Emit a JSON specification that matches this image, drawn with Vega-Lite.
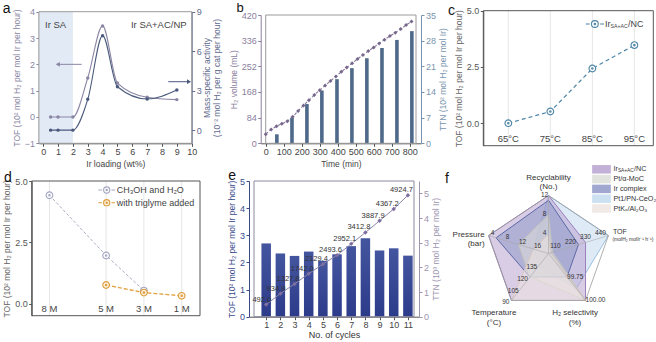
{
  "$schema": "https://vega.github.io/schema/vega-lite/v6.json",
  "width": 656,
  "height": 342,
  "autosize": {"type": "none"},
  "padding": 0,
  "background": "white",
  "config": {
    "font": "Liberation Sans",
    "view": {"stroke": null},
    "axis": {"grid": false, "labelFont": "Liberation Sans", "titleFont": "Liberation Sans", "labelFontSize": 9, "titleFontSize": 8.5, "titleFontWeight": "normal", "labelColor": "#444", "titleColor": "#444", "domainColor": "#555", "tickColor": "#555", "tickSize": 3, "labelPadding": 1.5, "titlePadding": 3, "labelFlush": false, "labelOverlap": false, "labelBound": false, "zindex": 1},
    "text": {"font": "Liberation Sans"}
  },
  "datasets": {
    "loading": [
      {"load": 0.5, "tof": 0, "mass": 0},
      {"load": 1, "tof": 0, "mass": 0},
      {"load": 2, "tof": 0, "mass": 0},
      {"load": 3, "tof": 1.48, "mass": 2.34},
      {"load": 4, "tof": 3.46, "mass": 7.18},
      {"load": 5, "tof": 1.29, "mass": 3.3},
      {"load": 7, "tof": 0.75, "mass": 2.37},
      {"load": 9, "tof": 0.66, "mass": 3.05}
    ],
    "volume": [
      {"t": 0, "v": 30}, {"t": 30, "v": 45}, {"t": 60, "v": 56}, {"t": 90, "v": 64},
      {"t": 120, "v": 72}, {"t": 150, "v": 87}, {"t": 180, "v": 106}, {"t": 210, "v": 124},
      {"t": 240, "v": 141}, {"t": 270, "v": 158}, {"t": 300, "v": 174}, {"t": 330, "v": 189},
      {"t": 360, "v": 204}, {"t": 390, "v": 219}, {"t": 420, "v": 234}, {"t": 450, "v": 248},
      {"t": 480, "v": 262}, {"t": 510, "v": 276}, {"t": 540, "v": 289}, {"t": 570, "v": 302},
      {"t": 600, "v": 314}, {"t": 630, "v": 327}, {"t": 660, "v": 339}, {"t": 690, "v": 351},
      {"t": 720, "v": 362}, {"t": 750, "v": 374}, {"t": 780, "v": 387}, {"t": 810, "v": 399}
    ],
    "ttnBars": [
      {"t": 62, "ttn": 2.45}, {"t": 146, "ttn": 7.0}, {"t": 229, "ttn": 10.7}, {"t": 312, "ttn": 14.4},
      {"t": 396, "ttn": 17.5}, {"t": 479, "ttn": 20.5}, {"t": 562, "ttn": 23.2}, {"t": 646, "ttn": 26.0},
      {"t": 729, "ttn": 28.2}, {"t": 812, "ttn": 30.6}
    ],
    "temp": [
      {"T": 65, "label": "65°C", "tof": 0.0},
      {"T": 75, "label": "75°C", "tof": 0.52},
      {"T": 85, "label": "85°C", "tof": 2.43},
      {"T": 95, "label": "95°C", "tof": 3.47}
    ],
    "concLabels": [
      {"c": 8, "label": "8 M"}, {"c": 5, "label": "5 M"}, {"c": 3, "label": "3 M"}, {"c": 1, "label": "1 M"}
    ],
    "conc": [
      {"grp": "water", "c": 8, "tof": 4.42},
      {"grp": "water", "c": 5, "tof": 1.97},
      {"grp": "water", "c": 3, "tof": 0.54},
      {"grp": "triglyme", "c": 5, "tof": 0.77},
      {"grp": "triglyme", "c": 3, "tof": 0.46},
      {"grp": "triglyme", "c": 1, "tof": 0.33}
    ],
    "cycles": [
      {"n": 1, "tof": 2.70, "ttn": 492.0},
      {"n": 2, "tof": 2.33, "ttn": 934.9},
      {"n": 3, "tof": 2.24, "ttn": 1327.8},
      {"n": 4, "tof": 2.40, "ttn": 1742.0},
      {"n": 5, "tof": 2.06, "ttn": 2129.4},
      {"n": 6, "tof": 2.30, "ttn": 2493.6},
      {"n": 7, "tof": 2.60, "ttn": 2952.1},
      {"n": 8, "tof": 2.89, "ttn": 3412.8},
      {"n": 9, "tof": 2.44, "ttn": 3887.9},
      {"n": 10, "tof": 2.52, "ttn": 4367.2},
      {"n": 11, "tof": 2.25, "ttn": 4924.7}
    ],
    "radarAxes": [
      {"axis": "Recyclability", "idx": 0, "lo": 0, "hi": 12, "title": "Recyclability\n(No.)"},
      {"axis": "TOF", "idx": 1, "lo": 0, "hi": 440, "title": "TOF", "unit": "(molH₂ molIr⁻¹ h⁻¹)"},
      {"axis": "Selectivity", "idx": 2, "lo": 99.5, "hi": 100, "title": "H₂ selectivity\n(%)"},
      {"axis": "Temperature", "idx": 3, "lo": 150, "hi": 90, "title": "Temperature\n(°C)"},
      {"axis": "Pressure", "idx": 4, "lo": 20, "hi": 4, "title": "Pressure\n(bar)"}
    ],
    "radarValues": [
      {"cat": "Pt1/PN-CeO2", "axis": "Recyclability", "value": 12},
      {"cat": "Pt1/PN-CeO2", "axis": "TOF", "value": 440},
      {"cat": "Pt1/PN-CeO2", "axis": "Selectivity", "value": 99.875},
      {"cat": "Pt1/PN-CeO2", "axis": "Temperature", "value": 135},
      {"cat": "Pt1/PN-CeO2", "axis": "Pressure", "value": 16},
      {"cat": "Ir_SA+AC/NC", "axis": "Recyclability", "value": 12},
      {"cat": "Ir_SA+AC/NC", "axis": "TOF", "value": 272},
      {"cat": "Ir_SA+AC/NC", "axis": "Selectivity", "value": 100},
      {"cat": "Ir_SA+AC/NC", "axis": "Temperature", "value": 90},
      {"cat": "Ir_SA+AC/NC", "axis": "Pressure", "value": 4},
      {"cat": "Ir complex", "axis": "Recyclability", "value": 11},
      {"cat": "Ir complex", "axis": "TOF", "value": 220},
      {"cat": "Ir complex", "axis": "Selectivity", "value": 99.75},
      {"cat": "Ir complex", "axis": "Temperature", "value": 120},
      {"cat": "Ir complex", "axis": "Pressure", "value": 6},
      {"cat": "Pt/α-MoC", "axis": "Recyclability", "value": 8},
      {"cat": "Pt/α-MoC", "axis": "TOF", "value": 30},
      {"cat": "Pt/α-MoC", "axis": "Selectivity", "value": 100},
      {"cat": "Pt/α-MoC", "axis": "Temperature", "value": 120},
      {"cat": "Pt/α-MoC", "axis": "Pressure", "value": 12},
      {"cat": "PtKx/Al2O3", "axis": "Recyclability", "value": 4},
      {"cat": "PtKx/Al2O3", "axis": "TOF", "value": 15},
      {"cat": "PtKx/Al2O3", "axis": "Selectivity", "value": 100},
      {"cat": "PtKx/Al2O3", "axis": "Temperature", "value": 90},
      {"cat": "PtKx/Al2O3", "axis": "Pressure", "value": 16}
    ],
    "radarTicks": [
      {"axis": "Recyclability", "value": 4, "label": "4"},
      {"axis": "Recyclability", "value": 8, "label": "8"},
      {"axis": "Recyclability", "value": 12, "label": "12"},
      {"axis": "TOF", "value": 110, "label": "110"},
      {"axis": "TOF", "value": 220, "label": "220"},
      {"axis": "TOF", "value": 330, "label": "330"},
      {"axis": "TOF", "value": 440, "label": "440"},
      {"axis": "Selectivity", "value": 99.75, "label": "99.75"},
      {"axis": "Selectivity", "value": 100, "label": "100.00"},
      {"axis": "Temperature", "value": 135, "label": "135"},
      {"axis": "Temperature", "value": 120, "label": "120"},
      {"axis": "Temperature", "value": 105, "label": "105"},
      {"axis": "Temperature", "value": 90, "label": "90"},
      {"axis": "Pressure", "value": 16, "label": "16"},
      {"axis": "Pressure", "value": 12, "label": "12"},
      {"axis": "Pressure", "value": 8, "label": "8"},
      {"axis": "Pressure", "value": 4, "label": "4"}
    ],
    "radarLegend": [
      {"cat": "Ir_SA+AC/NC", "label": "Ir", "sub": "SA+AC", "tail": "/NC"},
      {"cat": "Pt/α-MoC", "label": "Pt/α-MoC"},
      {"cat": "Ir complex", "label": "Ir complex"},
      {"cat": "Pt1/PN-CeO2", "label": "Pt1/PN-CeO₂"},
      {"cat": "PtKx/Al2O3", "label": "PtKₓ/Al₂O₃"}
    ]
  },
  "layer": [
    {
      "layer": [
        {
          "data": {"name": "loading"},
          "layer": [
            {
              "data": {"values": [{}]},
              "mark": {"type": "rect", "color": "#e2eaf6"},
              "encoding": {
                "x": {"datum": -0.29, "type": "quantitative", "scale": {"domain": [-0.29, 10], "range": [38.9, 191.7], "nice": false, "zero": false}, "axis": {"orient": "bottom", "offset": -198.7, "values": [0, 1, 2, 3, 4, 5, 6, 7, 8, 9, 10], "format": "d", "title": "Ir loading (wt%)"}},
                "x2": {"datum": 2},
                "y": {"datum": -1, "type": "quantitative", "scale": {"domain": [-1, 4], "range": [143.3, 11.7], "nice": false, "zero": false}, "axis": {"orient": "left", "offset": -38.9, "values": [-1, 0, 1, 2, 3, 4], "format": "d", "title": "TOF (10² mol H₂ per mol Ir per hour)", "labelColor": "#8a86a4", "titleColor": "#8a86a4", "domainColor": "#8a86a4", "tickColor": "#8a86a4"}},
                "y2": {"datum": 4}
              }
            },
            {
              "data": {"values": [{}]},
              "mark": {"type": "rect", "fill": "transparent", "stroke": "#9a9a9a", "strokeWidth": 1},
              "encoding": {"x": {"datum": -0.29, "type": "quantitative"}, "x2": {"datum": 10}, "y": {"datum": -1, "type": "quantitative"}, "y2": {"datum": 4}}
            },
            {
              "data": {"values": [{}]},
              "mark": {"type": "text", "align": "left", "baseline": "middle", "fontSize": 9.5, "color": "#444"},
              "encoding": {"x": {"datum": 0.12, "type": "quantitative"}, "y": {"datum": 3.5, "type": "quantitative"}, "text": {"value": "Ir SA"}}
            },
            {
              "data": {"values": [{}]},
              "mark": {"type": "text", "align": "right", "baseline": "middle", "fontSize": 9.5, "color": "#444"},
              "encoding": {"x": {"datum": 9.66, "type": "quantitative"}, "y": {"datum": 3.5, "type": "quantitative"}, "text": {"value": "Ir SA+AC/NP"}}
            },
            {
              "data": {"values": [{}]},
              "mark": {"type": "rule", "color": "#8a86a4", "strokeWidth": 1},
              "encoding": {"x": {"datum": 1.0, "type": "quantitative"}, "x2": {"datum": 2.59}, "y": {"datum": 2, "type": "quantitative"}}
            },
            {
              "data": {"values": [{}]},
              "mark": {"type": "point", "shape": "triangle-left", "filled": true, "size": 22, "color": "#8a86a4", "opacity": 1},
              "encoding": {"x": {"datum": 0.98, "type": "quantitative"}, "y": {"datum": 2, "type": "quantitative"}}
            },
            {
              "mark": {"type": "line", "interpolate": "monotone", "color": "#8a86a4", "strokeWidth": 1.1},
              "encoding": {"x": {"field": "load", "type": "quantitative"}, "y": {"field": "tof", "type": "quantitative"}}
            },
            {
              "mark": {"type": "point", "filled": true, "size": 12, "color": "#8a86a4", "opacity": 1},
              "encoding": {"x": {"field": "load", "type": "quantitative"}, "y": {"field": "tof", "type": "quantitative"}}
            },
            {
              "data": {"values": [{}]},
              "mark": {"type": "text", "align": "left", "baseline": "alphabetic", "fontSize": 14, "color": "#111"},
              "encoding": {"x": {"datum": -2.73, "type": "quantitative"}, "y": {"datum": 3.94, "type": "quantitative"}, "text": {"value": "a"}}
            }
          ]
        },
        {
          "data": {"name": "loading"},
          "layer": [
            {
              "mark": {"type": "line", "interpolate": "monotone", "color": "#4b5a7c", "strokeWidth": 1.1},
              "encoding": {
                "x": {"field": "load", "type": "quantitative"},
                "y": {"field": "mass", "type": "quantitative", "scale": {"domain": [-1, 9], "range": [143.3, 11.7], "nice": false, "zero": false}, "axis": {"orient": "right", "offset": -464.3, "values": [0, 3, 6, 9], "format": "d", "title": ["Mass-specific activity", "(10⁻² mol H₂ per g cat per hour)"], "titleAngle": 270, "titleBaseline": "top", "titleAlign": "center", "titleX": 11, "titleY": 77.5, "titleLineHeight": 10, "labelColor": "#5f6b8e", "titleColor": "#5f6b8e", "domainColor": "#5f6b8e", "tickColor": "#5f6b8e"}}
              }
            },
            {
              "mark": {"type": "point", "filled": true, "size": 12, "color": "#4b5a7c", "opacity": 1},
              "encoding": {"x": {"field": "load", "type": "quantitative"}, "y": {"field": "mass", "type": "quantitative"}}
            },
            {
              "data": {"values": [{}]},
              "mark": {"type": "rule", "color": "#4b5a7c", "strokeWidth": 1},
              "encoding": {"x": {"datum": 8.42, "type": "quantitative"}, "x2": {"datum": 9.8}, "y": {"datum": 3.68, "type": "quantitative"}}
            },
            {
              "data": {"values": [{}]},
              "mark": {"type": "point", "shape": "triangle-right", "filled": true, "size": 22, "color": "#4b5a7c", "opacity": 1},
              "encoding": {"x": {"datum": 9.82, "type": "quantitative"}, "y": {"datum": 3.68, "type": "quantitative"}}
            }
          ]
        }
      ],
      "resolve": {"scale": {"y": "independent"}}
    },
    {
      "layer": [
        {
          "data": {"name": "ttnBars"},
          "layer": [
            {
              "mark": {"type": "bar", "width": 3.6, "color": "#4e6989"},
              "encoding": {
                "x": {"field": "t", "type": "quantitative", "scale": {"domain": [0, 835], "range": [260.7, 421], "nice": false, "zero": false}, "axis": {"orient": "bottom", "offset": -198.7, "values": [0, 100, 200, 300, 400, 500, 600, 700, 800], "format": "d", "title": "Time (min)"}},
                "y": {"field": "ttn", "type": "quantitative", "scale": {"domain": [0, 35], "range": [143.3, 15], "nice": false}, "axis": {"orient": "right", "offset": -235, "values": [0, 7, 14, 21, 28, 35], "format": "d", "title": "TTN (10² mol H₂ per mol Ir)", "titleAngle": 270, "titleBaseline": "top", "labelColor": "#7894ae", "titleColor": "#7894ae", "domainColor": "#7894ae", "tickColor": "#7894ae"}}
              }
            }
          ]
        },
        {
          "data": {"name": "volume"},
          "layer": [
            {
              "data": {"values": [{}]},
              "mark": {"type": "rect", "fill": "transparent", "stroke": "#9a9a9a", "strokeWidth": 1},
              "encoding": {
                "x": {"datum": 0, "type": "quantitative"},
                "x2": {"datum": 835},
                "y": {"datum": 0, "type": "quantitative", "scale": {"domain": [0, 420], "range": [143.3, 15], "nice": false}, "axis": {"orient": "left", "offset": -260.7, "values": [0, 84, 168, 252, 336, 420], "format": "d", "title": "H₂ volume (mL)", "labelColor": "#8b809d", "titleColor": "#8b809d", "domainColor": "#8b809d", "tickColor": "#8b809d"}},
                "y2": {"datum": 420}
              }
            },
            {
              "mark": {"type": "line", "color": "#86789a", "strokeWidth": 1.1, "strokeDash": [3, 2]},
              "encoding": {"x": {"field": "t", "type": "quantitative"}, "y": {"field": "v", "type": "quantitative"}}
            },
            {
              "mark": {"type": "point", "shape": "diamond", "filled": true, "size": 16, "color": "#76668c", "opacity": 1},
              "encoding": {"x": {"field": "t", "type": "quantitative"}, "y": {"field": "v", "type": "quantitative"}}
            },
            {
              "data": {"values": [{}]},
              "mark": {"type": "text", "align": "left", "baseline": "alphabetic", "fontSize": 13, "color": "#111"},
              "encoding": {"x": {"datum": -162, "type": "quantitative"}, "y": {"datum": 429.8, "type": "quantitative"}, "text": {"value": "b"}}
            }
          ]
        }
      ],
      "resolve": {"scale": {"y": "independent"}}
    },
    {
      "data": {"name": "temp"},
      "layer": [
        {
          "mark": {"type": "rule", "color": "#e6e6e6", "strokeWidth": 1},
          "encoding": {
            "x": {"field": "T", "type": "quantitative", "scale": {"domain": [59.05, 99.5], "range": [483.3, 653.3], "nice": false, "zero": false}, "axis": null},
            "y": {"datum": -1, "type": "quantitative", "scale": {"domain": [-1, 5], "range": [145.7, 10.7], "nice": false, "zero": false}, "axis": {"orient": "left", "offset": -483.3, "values": [0, 2.5, 5], "format": ".1f", "title": "TOF (10² mol H₂ per mol Ir per hour)", "labelColor": "#555", "titleColor": "#666"}},
            "y2": {"datum": 5}
          }
        },
        {
          "data": {"values": [{}]},
          "mark": {"type": "rect", "fill": "transparent", "stroke": "#555", "strokeWidth": 1},
          "encoding": {"x": {"datum": 59.05, "type": "quantitative", "axis": null}, "x2": {"datum": 99.5}, "y": {"datum": -1, "type": "quantitative"}, "y2": {"datum": 5}}
        },
        {
          "mark": {"type": "text", "align": "center", "baseline": "middle", "fontSize": 9.5, "color": "#444"},
          "encoding": {"x": {"field": "T", "type": "quantitative", "axis": null}, "y": {"datum": -0.72, "type": "quantitative"}, "text": {"field": "label"}}
        },
        {
          "mark": {"type": "line", "color": "#4d85a5", "strokeWidth": 1.2, "strokeDash": [4, 3]},
          "encoding": {"x": {"field": "T", "type": "quantitative", "axis": null}, "y": {"field": "tof", "type": "quantitative"}}
        },
        {
          "mark": {"type": "point", "shape": "M-1,0A1,1,0,1,0,1,0A1,1,0,1,0,-1,0ZM-0.22,0A0.22,0.22,0,1,0,0.22,0A0.22,0.22,0,1,0,-0.22,0Z", "size": 45, "fill": "white", "fillOpacity": 1, "stroke": "#4d85a5", "strokeWidth": 1.1, "opacity": 1},
          "encoding": {"x": {"field": "T", "type": "quantitative", "axis": null}, "y": {"field": "tof", "type": "quantitative"}}
        },
        {
          "data": {"values": [{}]},
          "mark": {"type": "point", "shape": "M-1,0L-0.57,0M0.57,0L1,0M-0.37,0A0.37,0.37,0,1,0,0.37,0A0.37,0.37,0,1,0,-0.37,0ZM-0.08,0A0.08,0.08,0,1,0,0.08,0A0.08,0.08,0,1,0,-0.08,0Z", "size": 335, "fill": "white", "fillOpacity": 1, "stroke": "#4d85a5", "strokeWidth": 1.1, "opacity": 1},
          "encoding": {"x": {"datum": 85.6, "type": "quantitative", "axis": null}, "y": {"datum": 4.41, "type": "quantitative"}}
        },
        {
          "data": {"values": [{}]},
          "mark": {"type": "text", "align": "left", "baseline": "middle", "fontSize": 9, "color": "#444"},
          "encoding": {"x": {"datum": 88.0, "type": "quantitative", "axis": null}, "y": {"datum": 4.41, "type": "quantitative"}, "text": {"value": "Ir"}}
        },
        {
          "data": {"values": [{}]},
          "mark": {"type": "text", "align": "left", "baseline": "middle", "fontSize": 5.2, "dx": 5.6, "dy": 2.5, "color": "#444"},
          "encoding": {"x": {"datum": 88.0, "type": "quantitative", "axis": null}, "y": {"datum": 4.41, "type": "quantitative"}, "text": {"value": "SA+AC"}}
        },
        {
          "data": {"values": [{}]},
          "mark": {"type": "text", "align": "left", "baseline": "middle", "fontSize": 9, "dx": 23, "color": "#444"},
          "encoding": {"x": {"datum": 88.0, "type": "quantitative", "axis": null}, "y": {"datum": 4.41, "type": "quantitative"}, "text": {"value": "/NC"}}
        },
        {
          "data": {"values": [{}]},
          "mark": {"type": "text", "align": "left", "baseline": "alphabetic", "fontSize": 14, "color": "#111"},
          "encoding": {"x": {"datum": 50.65, "type": "quantitative", "axis": null}, "y": {"datum": 4.81, "type": "quantitative"}, "text": {"value": "c"}}
        }
      ]
    },
    {
      "data": {"name": "conc"},
      "layer": [
        {
          "data": {"name": "concLabels"},
          "mark": {"type": "rule", "color": "#e6e6e6", "strokeWidth": 1},
          "encoding": {
            "x": {"field": "c", "type": "quantitative", "scale": {"domain": [0.03, 8.94], "range": [200, 31.7], "nice": false, "zero": false}, "axis": null},
            "y": {"datum": -0.48, "type": "quantitative", "scale": {"domain": [-0.48, 5], "range": [315.7, 181], "nice": false, "zero": false}, "axis": {"orient": "left", "offset": -31.7, "values": [0, 2.5, 5], "format": ".1f", "title": "TOF (10² mol H₂ per mol Ir per hour)", "labelColor": "#555", "titleColor": "#666"}},
            "y2": {"datum": 5}
          }
        },
        {
          "data": {"values": [{}]},
          "mark": {"type": "rect", "fill": "transparent", "stroke": "#555", "strokeWidth": 1},
          "encoding": {"x": {"datum": 0.03, "type": "quantitative", "axis": null}, "x2": {"datum": 8.94}, "y": {"datum": -0.48, "type": "quantitative"}, "y2": {"datum": 5}}
        },
        {
          "data": {"name": "concLabels"},
          "mark": {"type": "text", "align": "center", "baseline": "middle", "fontSize": 9.5, "color": "#444"},
          "encoding": {"x": {"field": "c", "type": "quantitative", "axis": null}, "y": {"datum": -0.22, "type": "quantitative"}, "text": {"field": "label"}}
        },
        {
          "transform": [{"filter": "datum.grp == 'water'"}],
          "mark": {"type": "line", "color": "#a9abc0", "strokeWidth": 1, "strokeDash": [3, 2]},
          "encoding": {"x": {"field": "c", "type": "quantitative", "axis": null}, "y": {"field": "tof", "type": "quantitative"}}
        },
        {
          "transform": [{"filter": "datum.grp == 'water'"}],
          "mark": {"type": "point", "shape": "M-1,0A1,1,0,1,0,1,0A1,1,0,1,0,-1,0ZM-0.22,0A0.22,0.22,0,1,0,0.22,0A0.22,0.22,0,1,0,-0.22,0Z", "size": 45, "fill": "white", "fillOpacity": 1, "stroke": "#a3a6c0", "strokeWidth": 1.1, "opacity": 1},
          "encoding": {"x": {"field": "c", "type": "quantitative", "axis": null}, "y": {"field": "tof", "type": "quantitative"}}
        },
        {
          "transform": [{"filter": "datum.grp == 'triglyme'"}],
          "mark": {"type": "line", "color": "#e2a445", "strokeWidth": 1.4, "strokeDash": [4, 2]},
          "encoding": {"x": {"field": "c", "type": "quantitative", "axis": null}, "y": {"field": "tof", "type": "quantitative"}}
        },
        {
          "transform": [{"filter": "datum.grp == 'triglyme'"}],
          "mark": {"type": "point", "shape": "M-1,0A1,1,0,1,0,1,0A1,1,0,1,0,-1,0ZM-0.22,0A0.22,0.22,0,1,0,0.22,0A0.22,0.22,0,1,0,-0.22,0Z", "size": 45, "fill": "#fbf1df", "fillOpacity": 1, "stroke": "#dd9d3c", "strokeWidth": 1.1, "opacity": 1},
          "encoding": {"x": {"field": "c", "type": "quantitative", "axis": null}, "y": {"field": "tof", "type": "quantitative"}}
        },
        {
          "data": {"values": [{}]},
          "mark": {"type": "point", "shape": "M-1,0L-0.57,0M0.57,0L1,0M-0.37,0A0.37,0.37,0,1,0,0.37,0A0.37,0.37,0,1,0,-0.37,0ZM-0.08,0A0.08,0.08,0,1,0,0.08,0A0.08,0.08,0,1,0,-0.08,0Z", "size": 279, "fill": "white", "fillOpacity": 1, "stroke": "#a3a6c0", "strokeWidth": 1.1, "opacity": 1},
          "encoding": {"x": {"datum": 4.97, "type": "quantitative", "axis": null}, "y": {"datum": 4.634, "type": "quantitative"}}
        },
        {
          "data": {"values": [{}]},
          "mark": {"type": "point", "shape": "M-1,0L-0.57,0M0.57,0L1,0M-0.37,0A0.37,0.37,0,1,0,0.37,0A0.37,0.37,0,1,0,-0.37,0ZM-0.08,0A0.08,0.08,0,1,0,0.08,0A0.08,0.08,0,1,0,-0.08,0Z", "size": 279, "fill": "#fbf1df", "fillOpacity": 1, "stroke": "#dd9d3c", "strokeWidth": 1.1, "opacity": 1},
          "encoding": {"x": {"datum": 4.97, "type": "quantitative", "axis": null}, "y": {"datum": 4.117, "type": "quantitative"}}
        },
        {
          "data": {"values": [{}]},
          "mark": {"type": "text", "align": "left", "baseline": "middle", "fontSize": 9, "color": "#444"},
          "encoding": {"x": {"datum": 4.44, "type": "quantitative", "axis": null}, "y": {"datum": 4.634, "type": "quantitative"}, "text": {"value": "CH₃OH and H₂O"}}
        },
        {
          "data": {"values": [{}]},
          "mark": {"type": "text", "align": "left", "baseline": "middle", "fontSize": 9, "color": "#444"},
          "encoding": {"x": {"datum": 4.44, "type": "quantitative", "axis": null}, "y": {"datum": 4.117, "type": "quantitative"}, "text": {"value": "with triglyme added"}}
        },
        {
          "data": {"values": [{}]},
          "mark": {"type": "text", "align": "left", "baseline": "alphabetic", "fontSize": 14, "color": "#111"},
          "encoding": {"x": {"datum": 10.41, "type": "quantitative", "axis": null}, "y": {"datum": 4.97, "type": "quantitative"}, "text": {"value": "d"}}
        }
      ]
    },
    {
      "data": {"name": "cycles"},
      "layer": [
        {
          "layer": [
            {
              "mark": {"type": "bar", "width": 9.5, "color": {"gradient": "linear", "x1": 0, "y1": 0, "x2": 0, "y2": 1, "stops": [{"offset": 0, "color": "#44559f"}, {"offset": 1, "color": "#2c3b8a"}]}},
              "encoding": {
                "x": {"field": "n", "type": "quantitative", "scale": {"domain": [0.14, 11.43], "range": [249, 419], "nice": false, "zero": false}, "axis": {"orient": "bottom", "offset": -25.3, "values": [1, 2, 3, 4, 5, 6, 7, 8, 9, 10, 11], "format": "d", "title": "No. of cycles", "titleColor": "#333", "titleFontSize": 9, "labelPadding": 1, "titlePadding": 1}},
                "y": {"field": "tof", "type": "quantitative", "scale": {"domain": [0, 5], "range": [316.7, 181], "nice": false}, "axis": {"orient": "left", "offset": -249, "values": [0, 1, 2, 3, 4, 5], "format": "d", "title": "TOF (10² mol H₂ per mol Ir per hour)", "labelColor": "#3a4a8c", "titleColor": "#3a4a8c", "domainColor": "#3a4a8c", "tickColor": "#3a4a8c"}}
              }
            },
            {
              "data": {"values": [{}]},
              "mark": {"type": "rect", "fill": "transparent", "stroke": "#8a8aa0", "strokeWidth": 1},
              "encoding": {"x": {"datum": 0.14, "type": "quantitative"}, "x2": {"datum": 11.43}, "y": {"datum": 0, "type": "quantitative"}, "y2": {"datum": 5}}
            },
            {
              "data": {"values": [{}]},
              "mark": {"type": "text", "align": "left", "baseline": "alphabetic", "fontSize": 14, "color": "#111"},
              "encoding": {"x": {"datum": -1.67, "type": "quantitative"}, "y": {"datum": 5.04, "type": "quantitative"}, "text": {"value": "e"}}
            }
          ]
        },
        {
          "transform": [{"calculate": "datum.ttn / 1000", "as": "ttnK"}],
          "layer": [
            {
              "mark": {"type": "line", "color": "#8e84a8", "strokeWidth": 1},
              "encoding": {
                "x": {"field": "n", "type": "quantitative"},
                "y": {"field": "ttnK", "type": "quantitative", "scale": {"domain": [0, 5.5], "range": [316.7, 181], "nice": false}, "axis": {"orient": "right", "offset": -237, "values": [0, 1, 2, 3, 4, 5], "format": "d", "title": "TTN (10³ mol H₂ per mol Ir)", "titleAngle": 270, "titleBaseline": "top", "labelColor": "#9d94b0", "titleColor": "#9d94b0", "domainColor": "#9d94b0", "tickColor": "#9d94b0"}}
              }
            },
            {
              "mark": {"type": "point", "shape": "diamond", "filled": true, "size": 20, "color": "#7d6fa0", "opacity": 1},
              "encoding": {"x": {"field": "n", "type": "quantitative"}, "y": {"field": "ttnK", "type": "quantitative"}}
            },
            {
              "mark": {"type": "text", "align": "right", "baseline": "middle", "fontSize": 7.5, "dx": 5, "dy": -5, "color": "#333"},
              "encoding": {"x": {"field": "n", "type": "quantitative"}, "y": {"field": "ttnK", "type": "quantitative"}, "text": {"field": "ttn", "type": "quantitative", "format": ".1f"}}
            }
          ]
        }
      ],
      "resolve": {"scale": {"y": "independent"}}
    },
    {
      "layer": [
        {
          "layer": [
            {
              "data": {"name": "radarValues"},
              "transform": [
                {"lookup": "axis", "from": {"data": {"name": "radarAxes"}, "key": "axis", "fields": ["idx", "lo", "hi"]}},
                {"calculate": "(datum.value - datum.lo) / (datum.hi - datum.lo)", "as": "r"},
                {"calculate": "datum.r * sin(datum.idx * 2 * PI / 5)", "as": "px"},
                {"calculate": "datum.r * cos(datum.idx * 2 * PI / 5)", "as": "py"}
              ],
              "mark": {"type": "line", "interpolate": "linear-closed", "strokeWidth": 1, "fillOpacity": 0.55},
              "encoding": {
                "x": {"field": "px", "type": "quantitative", "scale": {"domain": [-1, 1], "range": [485.5, 611.5], "nice": false, "zero": false}, "axis": null},
                "y": {"field": "py", "type": "quantitative", "scale": {"domain": [-1, 1], "range": [311.5, 195.5], "nice": false, "zero": false}, "axis": null},
                "order": {"field": "idx"},
                "detail": {"field": "cat"},
                "fill": {"field": "cat", "type": "nominal", "scale": {"domain": ["Ir_SA+AC/NC", "Pt/α-MoC", "Ir complex", "Pt1/PN-CeO2", "PtKx/Al2O3"], "range": ["#b9a2cf", "#dcdfd8", "#8f99c9", "#c3daef", "#efe5e1"]}, "legend": null},
                "stroke": {"field": "cat", "type": "nominal", "scale": {"domain": ["Ir_SA+AC/NC", "Pt/α-MoC", "Ir complex", "Pt1/PN-CeO2", "PtKx/Al2O3"], "range": ["#9b7fbb", "#c2c6bd", "#5d6aa6", "#9cbfe0", "#d8c9c2"]}, "legend": null}
              }
            },
            {
              "data": {"name": "radarAxes"},
              "transform": [
                {"calculate": "sin(datum.idx * 2 * PI / 5)", "as": "px"},
                {"calculate": "cos(datum.idx * 2 * PI / 5)", "as": "py"}
              ],
              "mark": {"type": "line", "interpolate": "linear-closed", "color": "#9a9a9a", "strokeWidth": 0.8},
              "encoding": {"x": {"field": "px", "type": "quantitative", "axis": null}, "y": {"field": "py", "type": "quantitative", "axis": null}, "order": {"field": "idx"}}
            },
            {
              "data": {"name": "radarAxes"},
              "transform": [
                {"calculate": "sin(datum.idx * 2 * PI / 5)", "as": "px"},
                {"calculate": "cos(datum.idx * 2 * PI / 5)", "as": "py"}
              ],
              "mark": {"type": "rule", "color": "#a8a8a8", "strokeWidth": 0.6},
              "encoding": {"x": {"field": "px", "type": "quantitative", "axis": null}, "y": {"field": "py", "type": "quantitative", "axis": null}, "x2": {"datum": 0}, "y2": {"datum": 0}}
            },
            {
              "data": {"name": "radarTicks"},
              "transform": [
                {"filter": "datum.axis == 'Recyclability'"},
                {"lookup": "axis", "from": {"data": {"name": "radarAxes"}, "key": "axis", "fields": ["idx", "lo", "hi"]}},
                {"calculate": "(datum.value - datum.lo) / (datum.hi - datum.lo)", "as": "r"},
                {"calculate": "datum.r * sin(datum.idx * 2 * PI / 5)", "as": "px"},
                {"calculate": "datum.r * cos(datum.idx * 2 * PI / 5)", "as": "py"}
              ],
              "mark": {"type": "text", "align": "center", "baseline": "middle", "fontSize": 6.5, "dx": -4, "dy": -1, "color": "#333"},
              "encoding": {"x": {"field": "px", "type": "quantitative", "axis": null}, "y": {"field": "py", "type": "quantitative", "axis": null}, "text": {"field": "label"}}
            },
            {
              "data": {"name": "radarTicks"},
              "transform": [
                {"filter": "datum.axis == 'TOF'"},
                {"lookup": "axis", "from": {"data": {"name": "radarAxes"}, "key": "axis", "fields": ["idx", "lo", "hi"]}},
                {"calculate": "(datum.value - datum.lo) / (datum.hi - datum.lo)", "as": "r"},
                {"calculate": "datum.r * sin(datum.idx * 2 * PI / 5)", "as": "px"},
                {"calculate": "datum.r * cos(datum.idx * 2 * PI / 5)", "as": "py"}
              ],
              "mark": {"type": "text", "align": "center", "baseline": "middle", "fontSize": 6.5, "dx": -8, "dy": -3, "color": "#333"},
              "encoding": {"x": {"field": "px", "type": "quantitative", "axis": null}, "y": {"field": "py", "type": "quantitative", "axis": null}, "text": {"field": "label"}}
            },
            {
              "data": {"name": "radarTicks"},
              "transform": [
                {"filter": "datum.axis == 'Selectivity'"},
                {"lookup": "axis", "from": {"data": {"name": "radarAxes"}, "key": "axis", "fields": ["idx", "lo", "hi"]}},
                {"calculate": "(datum.value - datum.lo) / (datum.hi - datum.lo)", "as": "r"},
                {"calculate": "datum.r * sin(datum.idx * 2 * PI / 5)", "as": "px"},
                {"calculate": "datum.r * cos(datum.idx * 2 * PI / 5)", "as": "py"}
              ],
              "mark": {"type": "text", "align": "left", "baseline": "middle", "fontSize": 6.5, "dx": 0, "dy": 0, "color": "#333"},
              "encoding": {"x": {"field": "px", "type": "quantitative", "axis": null}, "y": {"field": "py", "type": "quantitative", "axis": null}, "text": {"field": "label"}}
            },
            {
              "data": {"name": "radarTicks"},
              "transform": [
                {"filter": "datum.axis == 'Temperature'"},
                {"lookup": "axis", "from": {"data": {"name": "radarAxes"}, "key": "axis", "fields": ["idx", "lo", "hi"]}},
                {"calculate": "(datum.value - datum.lo) / (datum.hi - datum.lo)", "as": "r"},
                {"calculate": "datum.r * sin(datum.idx * 2 * PI / 5)", "as": "px"},
                {"calculate": "datum.r * cos(datum.idx * 2 * PI / 5)", "as": "py"}
              ],
              "mark": {"type": "text", "align": "right", "baseline": "middle", "fontSize": 6.5, "dx": -2, "dy": 2, "color": "#333"},
              "encoding": {"x": {"field": "px", "type": "quantitative", "axis": null}, "y": {"field": "py", "type": "quantitative", "axis": null}, "text": {"field": "label"}}
            },
            {
              "data": {"name": "radarTicks"},
              "transform": [
                {"filter": "datum.axis == 'Pressure'"},
                {"lookup": "axis", "from": {"data": {"name": "radarAxes"}, "key": "axis", "fields": ["idx", "lo", "hi"]}},
                {"calculate": "(datum.value - datum.lo) / (datum.hi - datum.lo)", "as": "r"},
                {"calculate": "datum.r * sin(datum.idx * 2 * PI / 5)", "as": "px"},
                {"calculate": "datum.r * cos(datum.idx * 2 * PI / 5)", "as": "py"}
              ],
              "mark": {"type": "text", "align": "center", "baseline": "middle", "fontSize": 6.5, "dx": 4, "dy": -3, "color": "#333"},
              "encoding": {"x": {"field": "px", "type": "quantitative", "axis": null}, "y": {"field": "py", "type": "quantitative", "axis": null}, "text": {"field": "label"}}
            },
            {
              "data": {"name": "radarAxes"},
              "transform": [{"filter": "datum.idx == 0"}],
              "mark": {"type": "text", "align": "center", "baseline": "bottom", "lineBreak": "\n", "lineHeight": 9, "fontSize": 8, "dy": -14, "color": "#333"},
              "encoding": {"x": {"datum": 0, "type": "quantitative", "axis": null}, "y": {"datum": 1, "type": "quantitative", "axis": null}, "text": {"field": "title"}}
            },
            {
              "data": {"name": "radarAxes"},
              "transform": [{"filter": "datum.idx == 1"}, {"calculate": "sin(2 * PI / 5)", "as": "px"}, {"calculate": "cos(2 * PI / 5)", "as": "py"}],
              "mark": {"type": "text", "align": "left", "baseline": "middle", "fontSize": 7, "dx": 4.5, "dy": -3.5, "color": "#333"},
              "encoding": {"x": {"field": "px", "type": "quantitative", "axis": null}, "y": {"field": "py", "type": "quantitative", "axis": null}, "text": {"field": "title"}}
            },
            {
              "data": {"name": "radarAxes"},
              "transform": [{"filter": "datum.idx == 1"}, {"calculate": "sin(2 * PI / 5)", "as": "px"}, {"calculate": "cos(2 * PI / 5)", "as": "py"}],
              "mark": {"type": "text", "align": "left", "baseline": "middle", "fontSize": 5, "dx": 4, "dy": 3, "color": "#333"},
              "encoding": {"x": {"field": "px", "type": "quantitative", "axis": null}, "y": {"field": "py", "type": "quantitative", "axis": null}, "text": {"field": "unit"}}
            },
            {
              "data": {"name": "radarAxes"},
              "transform": [{"filter": "datum.idx == 2"}, {"calculate": "sin(4 * PI / 5)", "as": "px"}, {"calculate": "cos(4 * PI / 5)", "as": "py"}],
              "mark": {"type": "text", "align": "center", "baseline": "top", "lineBreak": "\n", "lineHeight": 9.5, "fontSize": 8, "dx": -10.5, "dy": 9, "color": "#333"},
              "encoding": {"x": {"field": "px", "type": "quantitative", "axis": null}, "y": {"field": "py", "type": "quantitative", "axis": null}, "text": {"field": "title"}}
            },
            {
              "data": {"name": "radarAxes"},
              "transform": [{"filter": "datum.idx == 3"}, {"calculate": "sin(6 * PI / 5)", "as": "px"}, {"calculate": "cos(6 * PI / 5)", "as": "py"}],
              "mark": {"type": "text", "align": "center", "baseline": "top", "lineBreak": "\n", "lineHeight": 9.5, "fontSize": 8, "dx": -17.5, "dy": 9, "color": "#333"},
              "encoding": {"x": {"field": "px", "type": "quantitative", "axis": null}, "y": {"field": "py", "type": "quantitative", "axis": null}, "text": {"field": "title"}}
            },
            {
              "data": {"name": "radarAxes"},
              "transform": [{"filter": "datum.idx == 4"}, {"calculate": "sin(8 * PI / 5)", "as": "px"}, {"calculate": "cos(8 * PI / 5)", "as": "py"}],
              "mark": {"type": "text", "align": "right", "baseline": "middle", "lineBreak": "\n", "lineHeight": 9.5, "fontSize": 8, "dx": -4, "dy": -1, "color": "#333"},
              "encoding": {"x": {"field": "px", "type": "quantitative", "axis": null}, "y": {"field": "py", "type": "quantitative", "axis": null}, "text": {"field": "title"}}
            },
            {
              "data": {"values": [{}]},
              "mark": {"type": "text", "align": "left", "baseline": "alphabetic", "fontSize": 14, "color": "#111"},
              "encoding": {"x": {"datum": -1.643, "type": "quantitative", "axis": null}, "y": {"datum": 1.21, "type": "quantitative", "axis": null}, "text": {"value": "f"}}
            }
          ]
        },
        {
          "data": {"name": "radarLegend"},
          "layer": [
            {
              "mark": {"type": "point", "shape": "M-1,-0.455H1V0.455H-1Z", "size": 350, "filled": true, "fillOpacity": 0.85, "strokeWidth": 0, "opacity": 1},
              "encoding": {
                "x": {"datum": 0.841, "type": "quantitative", "axis": null},
                "y": {"field": "cat", "type": "nominal", "sort": null, "scale": {"type": "point", "domain": ["Ir_SA+AC/NC", "Pt/α-MoC", "Ir complex", "Pt1/PN-CeO2", "PtKx/Al2O3"], "range": [169.3, 208.5], "padding": 0}, "axis": null},
                "fill": {"field": "cat", "type": "nominal", "legend": null}
              }
            },
            {
              "mark": {"type": "text", "align": "left", "baseline": "middle", "fontSize": 7.2, "color": "#333"},
              "encoding": {"x": {"datum": 1.032, "type": "quantitative", "axis": null}, "y": {"field": "cat", "type": "nominal", "axis": null}, "text": {"field": "label"}}
            },
            {
              "transform": [{"filter": "isValid(datum.sub)"}],
              "mark": {"type": "text", "align": "left", "baseline": "middle", "fontSize": 4.8, "dx": 4.4, "dy": 2, "color": "#333"},
              "encoding": {"x": {"datum": 1.032, "type": "quantitative", "axis": null}, "y": {"field": "cat", "type": "nominal", "axis": null}, "text": {"field": "sub"}}
            },
            {
              "transform": [{"filter": "isValid(datum.tail)"}],
              "mark": {"type": "text", "align": "left", "baseline": "middle", "fontSize": 7.2, "dx": 20.5, "color": "#333"},
              "encoding": {"x": {"datum": 1.032, "type": "quantitative", "axis": null}, "y": {"field": "cat", "type": "nominal", "axis": null}, "text": {"field": "tail"}}
            }
          ]
        }
      ],
      "resolve": {"scale": {"y": "independent"}}
    }
  ],
  "resolve": {"scale": {"x": "independent", "y": "independent", "fill": "independent", "stroke": "independent"}}
}
